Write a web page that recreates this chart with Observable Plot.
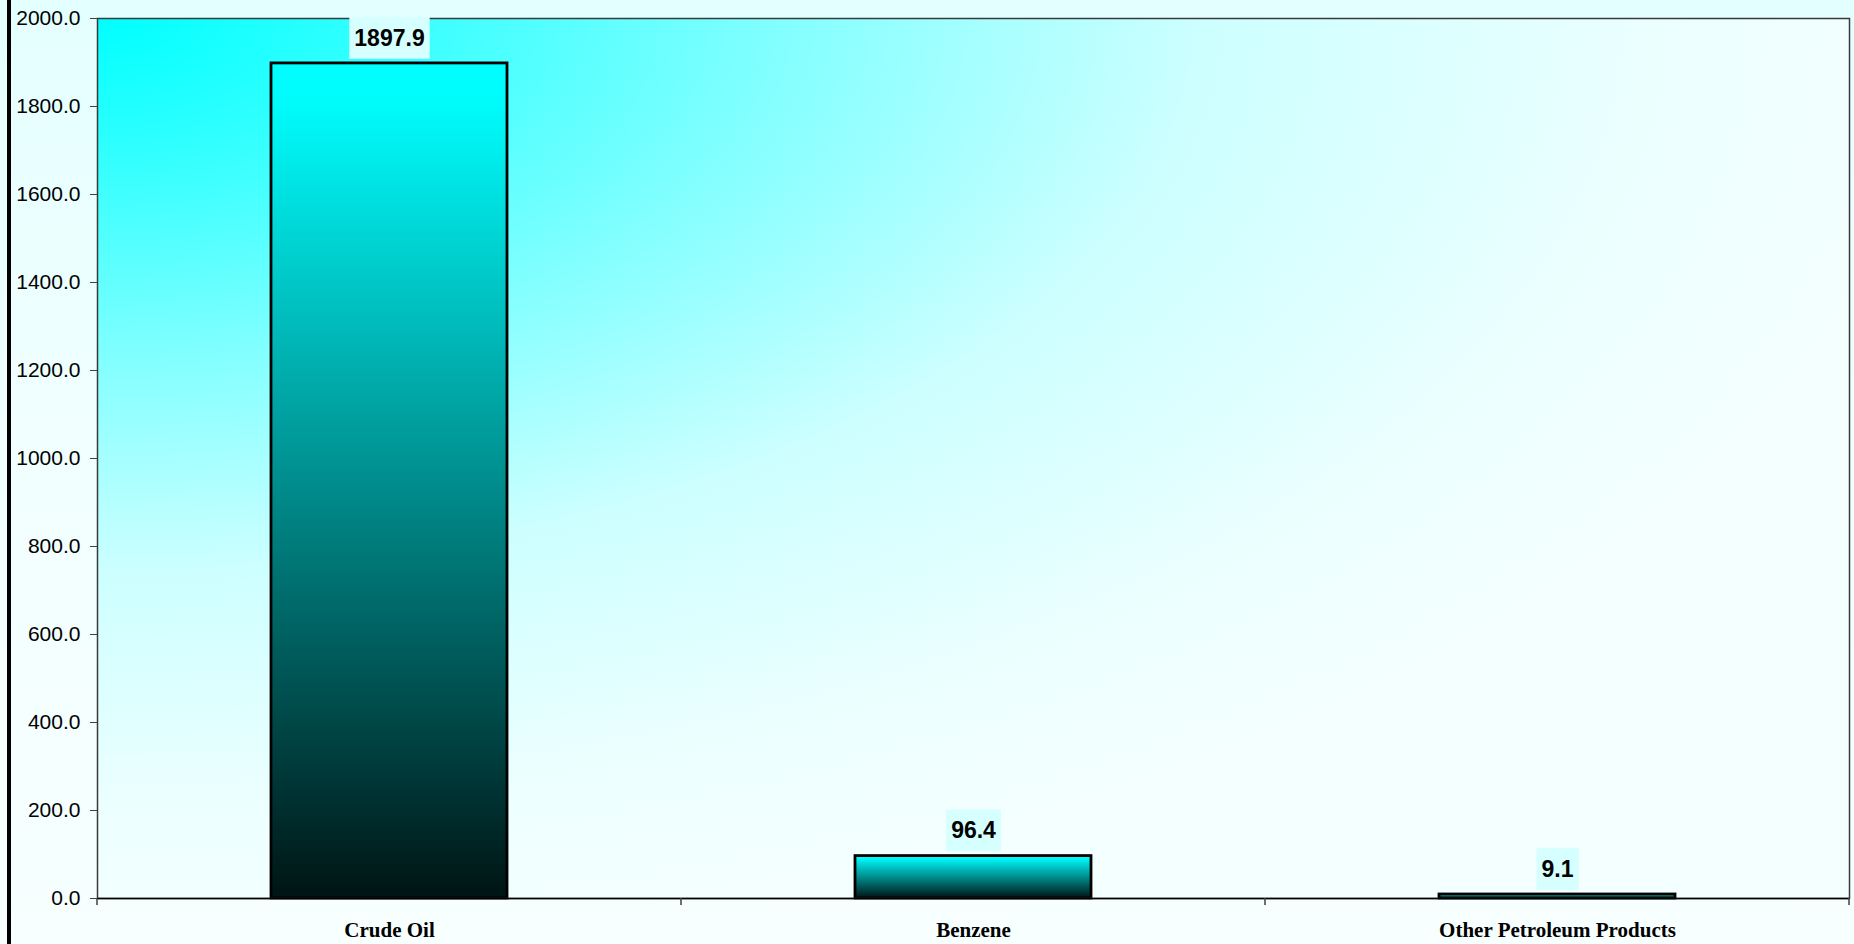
<!DOCTYPE html>
<html><head><meta charset="utf-8">
<script src="https://cdn.jsdelivr.net/npm/d3@7"></script>
<script src="https://cdn.jsdelivr.net/npm/@observablehq/plot@0.6"></script>
<style>
html,body{margin:0;padding:0;background:#f6ffff;}
#wrap{position:relative;width:1854px;height:944px;overflow:hidden;background:linear-gradient(180deg,#e4ffff 0%,#f2ffff 50%,#f7ffff 100%);}
#wrap svg{position:absolute;left:0;top:0;}
#edge{position:absolute;left:7px;top:0;width:4px;height:944px;background:#000;}
</style></head><body>
<div id="wrap"><div id="edge"></div></div>
<script>
const categories = ["Crude Oil", "Benzene", "Other Petroleum Products"];
const values = [1897.9, 96.4, 9.1];
const yTicks = [0, 200, 400, 600, 800, 1000, 1200, 1400, 1600, 1800, 2000];
const yDomain = [0, 2000];

const data = categories.map((c, i) => ({category: c, value: values[i]}));

const chart = Plot.plot({
  width: 1854, height: 944,
  marginLeft: 97, marginRight: 5, marginTop: 18, marginBottom: 46,
  style: {background: "transparent", fontFamily: "'Liberation Sans', Arial, sans-serif", fontSize: "21px", color: "#000", overflow: "visible"},
  x: {type: "band", domain: categories, paddingInner: 0.596, paddingOuter: 0.298, align: 0.5, label: null},
  y: {domain: yDomain, label: null},
  marks: [
    Plot.frame({fill: "url(#plotBg)", stroke: "none"}),
    Plot.barY(data, {x: "category", y: "value", fill: "url(#barGrad)", stroke: "#000", strokeWidth: 2.8}),
    Plot.frame({fill: "none", stroke: "#3a3a3a", strokeWidth: 1.5}),
    Plot.ruleY([0], {stroke: "#000", strokeWidth: 1.5}),
    Plot.axisY({ticks: yTicks, tickSize: 7, tickPadding: 10, tickFormat: d => d.toFixed(1), stroke: "#404040", fill: "#000", fontSize: 21, label: null}),
    Plot.axisX({tickSize: 0, tickPadding: 24, fontFamily: "'Liberation Serif','Times New Roman',serif", fontWeight: "bold", fontSize: 21, fill: "#000", label: null}),
    Plot.text(data, {x: "category", y: "value", text: d => d.value.toFixed(1), dy: -25, fontWeight: "bold", fontSize: 23, fill: "#000", ariaLabel: "value-labels"})
  ]
});

const wrap = document.getElementById("wrap");
wrap.insertBefore(chart, wrap.firstChild);

const svg = d3.select(chart);
const defs = svg.insert("defs", ":first-child");
const bg = defs.append("radialGradient").attr("id", "plotBg")
  .attr("cx", 0).attr("cy", 0).attr("fx", 0).attr("fy", 0).attr("r", 1.05);
[[0, "rgb(0,255,255)"], [0.15, "rgb(50,255,255)"], [0.37, "rgb(130,255,255)"], [0.6, "rgb(205,255,255)"], [0.85, "rgb(236,255,255)"], [1, "rgb(244,255,255)"]]
  .forEach(([o, c]) => bg.append("stop").attr("offset", o).attr("stop-color", c));
const bar = defs.append("linearGradient").attr("id", "barGrad")
  .attr("x1", 0).attr("y1", 0).attr("x2", 0).attr("y2", 1);
[[0, "#00ffff"], [0.05, "#00fbfb"], [1, "#001414"]]
  .forEach(([o, c]) => bar.append("stop").attr("offset", o).attr("stop-color", c));

// label backgrounds
const labelTexts = chart.querySelectorAll('g[aria-label="value-labels"] text');
const labelNodes = labelTexts.length ? Array.from(labelTexts)
  : Array.from(chart.querySelectorAll("text")).filter(t => values.map(v => v.toFixed(1)).includes(t.textContent));
labelNodes.forEach(t => {
  const b = t.getBBox();
  const r = document.createElementNS("http://www.w3.org/2000/svg", "rect");
  r.setAttribute("x", b.x - 5);
  r.setAttribute("y", b.y - 8);
  r.setAttribute("width", b.width + 10);
  r.setAttribute("height", b.height + 16);
  r.setAttribute("fill", "#d6ffff");
  r.setAttribute("stroke", "none");
  r.setAttribute("transform", t.getAttribute("transform") || "");
  t.parentNode.insertBefore(r, t);
});

// x-axis tick marks at category boundaries
const xs = chart.scale("x");
const ys = chart.scale("y");
const step = xs.step != null ? xs.step : xs.bandwidth / (1 - xs.paddingInner);
const bounds = categories.map(c => xs.apply(c) + xs.bandwidth / 2 - step / 2);
bounds.push(bounds[bounds.length - 1] + step);
const y0 = ys.apply(0);
svg.append("g").selectAll("line").data(bounds).join("line")
  .attr("x1", d => d).attr("x2", d => d)
  .attr("y1", y0).attr("y2", y0 + 7)
  .attr("stroke", "#404040").attr("stroke-width", 1.5);
</script>
</body></html>
